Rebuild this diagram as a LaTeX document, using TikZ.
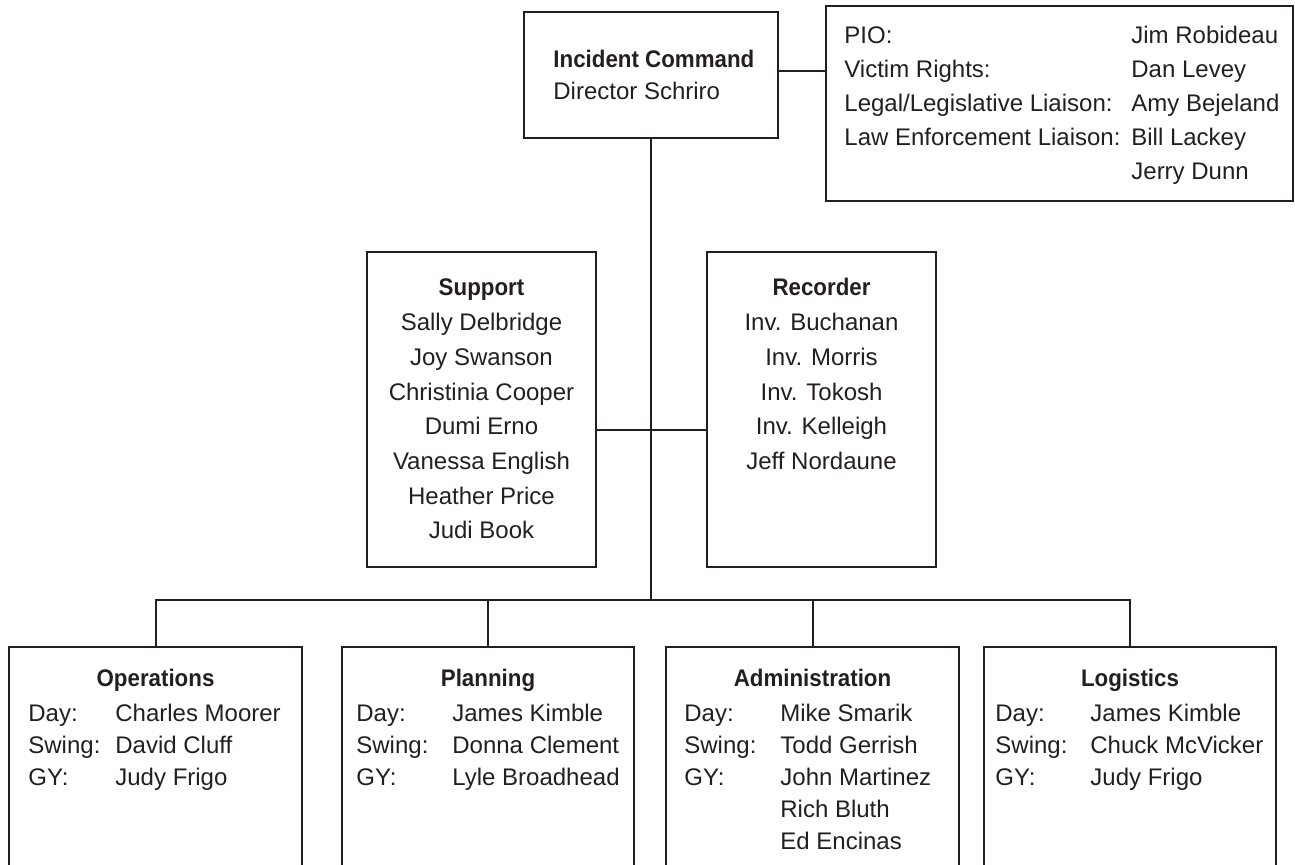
\documentclass[tikz,border=0pt]{standalone}
\usepackage{fontspec}
\setmainfont{Liberation Sans}[BoldFeatures={FakeStretch=0.93}]
\usepackage{xcolor}
\usetikzlibrary{positioning,calc}
\definecolor{ink}{HTML}{231F20}
\tikzset{
  orgbox/.style={draw=ink, line width=1pt, rectangle, inner sep=0pt},
  boxtext/.style={inner sep=0pt, text=ink, font=\fontsize{12pt}{16pt}\selectfont},
  boxtitle/.style={boxtext, anchor=base, font=\fontsize{12pt}{16pt}\selectfont\bfseries},
  link/.style={draw=ink, line width=1pt}
}
\newcommand{\dutyrows}[2]{\begin{tabular}[t]{@{}p{#1}@{}l@{}}#2\end{tabular}}

\begin{document}
\begin{tikzpicture}[x=0.5pt,y=-0.5pt]
\useasboundingbox (0,0) rectangle (1295,865);
\clip (0,0) rectangle (1295,865);

% top row
\node[orgbox, minimum width=127pt, minimum height=63pt] (cmd) at (651,75) {};
\node[orgbox, minimum width=233.5pt, minimum height=97.5pt] (staff) at (1059.5,103.5) {};
\node[boxtext, anchor=base west] (cmdtext) at ([xshift=15pt,yshift=-28.5pt]cmd.north west)
  {\begin{tabular}[t]{@{}l@{}}\textbf{Incident Command}\\Director Schriro\end{tabular}};
\node[boxtext, anchor=base west, font=\fontsize{12pt}{17pt}\selectfont] (stafftext)
  at ([xshift=9.5pt,yshift=-19.5pt]staff.north west)
  {\dutyrows{143.5pt}{PIO: & Jim Robideau\\
    Victim Rights: & Dan Levey\\
    Legal/Legislative Liaison: & Amy Bejeland\\
    Law Enforcement Liaison: & Bill Lackey\\
    & Jerry Dunn}};

% middle row
\node[orgbox, minimum width=114.5pt, minimum height=157.5pt] (sup) at (481.5,409.5) {};
\node[orgbox, minimum width=114.5pt, minimum height=157.5pt] (rec) at (821.5,409.5) {};
\node[boxtext, anchor=base, font=\fontsize{12pt}{17.35pt}\selectfont] (suptext)
  at ([yshift=-22.5pt]sup.north)
  {\begin{tabular}[t]{@{}c@{}}\textbf{Support}\\Sally Delbridge\\Joy Swanson\\Christinia Cooper\\
    Dumi Erno\\Vanessa English\\Heather Price\\Judi Book\end{tabular}};
\node[boxtext, anchor=base, font=\fontsize{12pt}{17.35pt}\selectfont] (rectext)
  at ([yshift=-22.5pt]rec.north)
  {\begin{tabular}[t]{@{}c@{}}\textbf{Recorder}\\Inv. Buchanan\\Inv. Morris\\Inv. Tokosh\\
    Inv. Kelleigh\\Jeff Nordaune\end{tabular}};

% bottom row
\node[orgbox, minimum width=146.5pt, minimum height=120pt] (ops) at (155.5,767) {};
\node[orgbox, minimum width=146pt, minimum height=120pt] (plan) at (488,767) {};
\node[orgbox, minimum width=146.5pt, minimum height=120pt] (admin) at (812.5,767) {};
\node[orgbox, minimum width=146pt, minimum height=120pt] (logi) at (1130,767) {};

\node[boxtitle] (opstitle) at ([yshift=-20pt]ops.north) {Operations};
\node[boxtitle] (plantitle) at ([yshift=-20pt]plan.north) {Planning};
\node[boxtitle] (admintitle) at ([yshift=-20pt]admin.north) {Administration};
\node[boxtitle] (logititle) at ([yshift=-20pt]logi.north) {Logistics};

\node[boxtext, anchor=base west] (opsrows) at ([xshift=10pt,yshift=-37.5pt]ops.north west)
  {\dutyrows{43.5pt}{Day: & Charles Moorer\\ Swing: & David Cluff\\ GY: & Judy Frigo}};
\node[boxtext, anchor=base west] (planrows) at ([xshift=7.5pt,yshift=-37.5pt]plan.north west)
  {\dutyrows{48pt}{Day: & James Kimble\\ Swing: & Donna Clement\\ GY: & Lyle Broadhead}};
\node[boxtext, anchor=base west] (adminrows) at ([xshift=9.5pt,yshift=-37.5pt]admin.north west)
  {\dutyrows{48pt}{Day: & Mike Smarik\\ Swing: & Todd Gerrish\\ GY: & John Martinez\\
    & Rich Bluth\\ & Ed Encinas}};
\node[boxtext, anchor=base west] (logirows) at ([xshift=6pt,yshift=-37.5pt]logi.north west)
  {\dutyrows{47.5pt}{Day: & James Kimble\\ Swing: & Chuck McVicker\\ GY: & Judy Frigo}};

% connectors
\coordinate (bus) at ([yshift=-230.5pt]cmd.south);
\coordinate (mid) at ([yshift=-10.25pt]sup.east);
\coordinate (side) at ([yshift=2pt]cmd.east);
\draw[link] (side) -- (side -| staff.west);
\draw[link] (cmd.south) -- (bus);
\draw[link] (mid) -- (mid -| rec.west);
\draw[link] (ops.north) -- (ops.north |- bus) -- (logi.north |- bus) -- (logi.north);
\draw[link] (plan.north) -- (plan.north |- bus);
\draw[link] (admin.north) -- (admin.north |- bus);
\end{tikzpicture}
\end{document}
